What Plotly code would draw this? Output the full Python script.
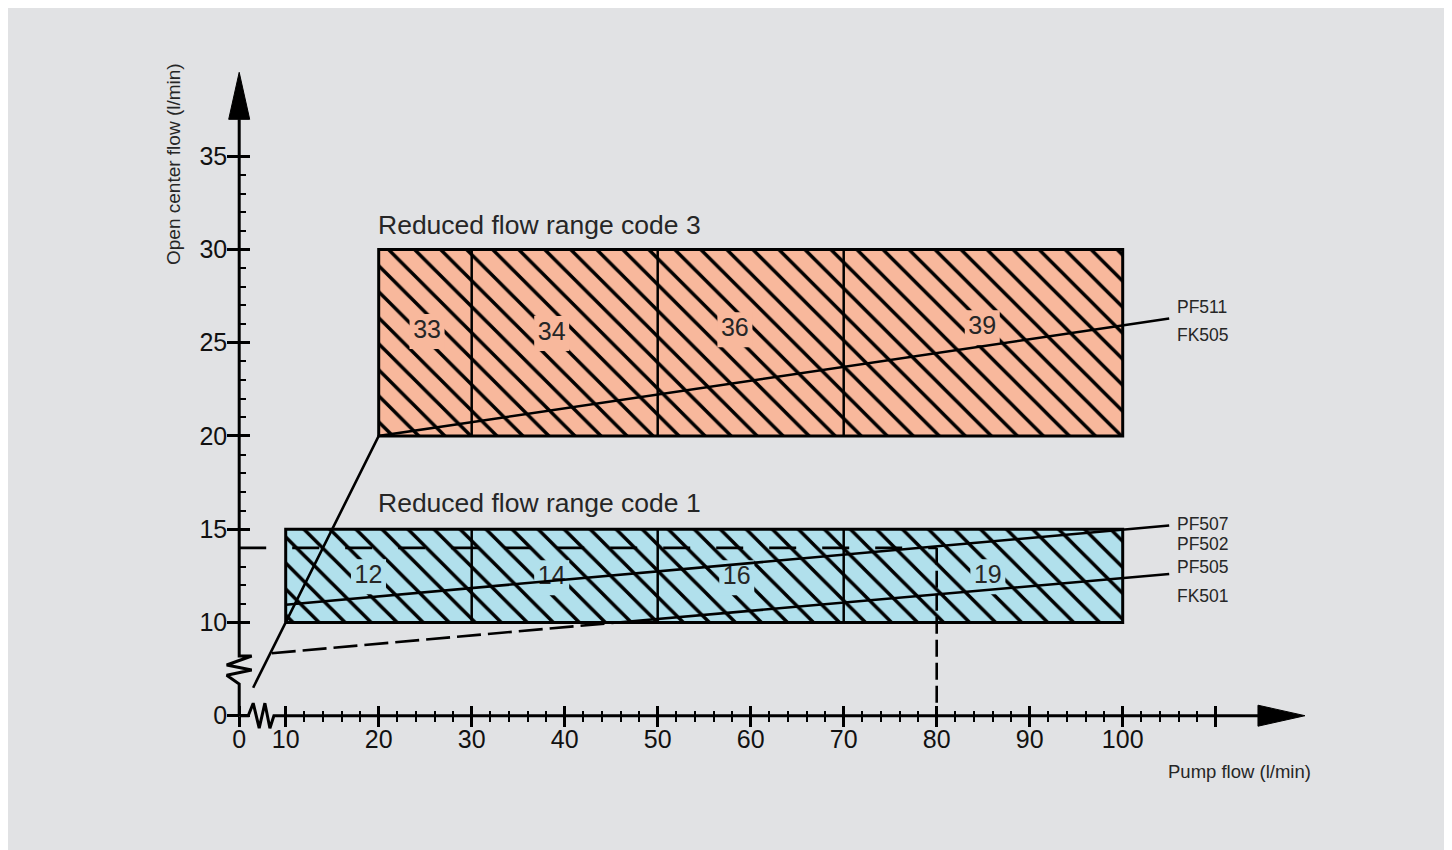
"""Reduced flow ranges: open center flow vs pump flow, with broken axes."""

import plotly.graph_objects as go

# ---------------------------------------------------------------------------
# Data (real units, l/min)
# ---------------------------------------------------------------------------
RANGE3_X = [20, 100]
RANGE3_Y = [20, 30]
RANGE1_X = [10, 100]
RANGE1_Y = [10, 15]
DIVIDERS_X = [30, 50, 70]

CODE3_LABELS = ["33", "34", "36", "39"]
CODE3_LABEL_X = [25.2, 38.6, 58.3, 84.9]
CODE3_LABEL_Y = [25.6, 25.5, 25.7, 25.8]
CODE1_LABELS = ["12", "14", "16", "19"]
CODE1_LABEL_X = [18.9, 38.6, 58.5, 85.5]
CODE1_LABEL_Y = [12.45, 12.4, 12.4, 12.45]

PF511_X = [3, 20, 105]
PF511_Y = [3, 20, 26.3]
PF507_X = [10, 105]
PF507_Y = [10.95, 15.2]
PF505_DASH_X = [7, 45.7]
PF505_DASH_Y = [6.7, 10]
PF505_X = [45.7, 105]
PF505_Y = [10, 12.6]
REF_PUMP = 80
REF_OPEN = 14

SERIES_LABELS = ["PF511", "FK505", "PF507", "PF502", "PF505", "FK501"]
SERIES_LABEL_Y = [26.9, 25.4, 15.3, 14.2, 13.0, 11.4]
SERIES_LABEL_X = 105.6

X_TICKS = [0, 10, 20, 30, 40, 50, 60, 70, 80, 90, 100, 110]
X_TICK_TEXT = ["0", "10", "20", "30", "40", "50", "60", "70", "80", "90", "100", ""]
X_MINOR = [v for v in range(12, 110, 2) if v % 10]
Y_TICKS = [0, 10, 15, 20, 25, 30, 35]
Y_TICK_TEXT = ["0", "10", "15", "20", "25", "30", "35"]
Y_MINOR = [v for v in range(11, 35) if v % 5]

X_AXIS_END = 119.6
Y_AXIS_END = 39.5

# ---------------------------------------------------------------------------
# Styling
# ---------------------------------------------------------------------------
BG = "#e1e2e4"
FILL3 = "#f8b89c"
FILL1 = "#b1e0ec"
INK = "#000000"
TEXT = "#262626"
FONT = "Liberation Sans, Arial, sans-serif"

PX_X = 9.3     # px per display unit
PX_Y = 18.65
X_RANGE = [-4, 116]
Y_RANGE = [-2, 35]


def tx(v):
    """Broken axis: 0..10 is drawn at half scale."""
    return v / 2 if v < 10 else v - 5


def txs(vals):
    return [None if v is None else tx(v) for v in vals]


def px_dx(p):
    return p / PX_X


def px_dy(p):
    return p / PX_Y


fig = go.Figure()

# reduced-flow boxes with hatching
for xs, ys, fill in [(RANGE3_X, RANGE3_Y, FILL3), (RANGE1_X, RANGE1_Y, FILL1)]:
    fig.add_trace(
        go.Scatter(
            x=txs([xs[0], xs[1], xs[1], xs[0], xs[0]]),
            y=txs([ys[0], ys[0], ys[1], ys[1], ys[0]]),
            mode="lines",
            fill="toself",
            fillcolor=fill,
            fillpattern=dict(shape="\\", fgcolor=INK, bgcolor=fill, fgopacity=1,
                             size=18.4, solidity=0.19),
            line=dict(color=INK, width=3),
            hoverinfo="skip",
            showlegend=False,
        )
    )

# number labels (square patch breaks the hatching)
for xs, ys, labels, fill in [
    (CODE3_LABEL_X, CODE3_LABEL_Y, CODE3_LABELS, FILL3),
    (CODE1_LABEL_X, CODE1_LABEL_Y, CODE1_LABELS, FILL1),
]:
    fig.add_trace(
        go.Scatter(
            x=txs(xs),
            y=txs(ys),
            mode="markers+text",
            text=labels,
            textposition="middle center",
            textfont=dict(size=25, color=TEXT, family=FONT),
            marker=dict(symbol="square", size=35, color=fill, line=dict(width=0)),
            hoverinfo="skip",
            showlegend=False,
        )
    )

# cell dividers
for ys in [RANGE3_Y, RANGE1_Y]:
    dx, dy = [], []
    for d in DIVIDERS_X:
        dx += [d, d, None]
        dy += [ys[0], ys[1], None]
    fig.add_trace(
        go.Scatter(x=txs(dx), y=txs(dy), mode="lines",
                   line=dict(color=INK, width=2.5),
                   hoverinfo="skip", showlegend=False)
    )

# characteristic lines
for xs, ys, dash in [
    (PF511_X, PF511_Y, "solid"),
    (PF507_X, PF507_Y, "solid"),
    (PF505_X, PF505_Y, "solid"),
    (PF505_DASH_X, PF505_DASH_Y, "24px,7px"),
]:
    fig.add_trace(
        go.Scatter(x=txs(xs), y=txs(ys), mode="lines",
                   line=dict(color=INK, width=2.6, dash=dash),
                   hoverinfo="skip", showlegend=False)
    )

# reference reading at 80 l/min
fig.add_trace(
    go.Scatter(x=txs([0, REF_PUMP]), y=txs([REF_OPEN, REF_OPEN]), mode="lines",
               line=dict(color=INK, width=2.6, dash="27px,26px"),
               hoverinfo="skip", showlegend=False)
)
fig.add_trace(
    go.Scatter(x=txs([REF_PUMP, REF_PUMP]), y=txs([REF_OPEN, 0]), mode="lines",
               line=dict(color=INK, width=2.6, dash="17px,6px"),
               hoverinfo="skip", showlegend=False)
)

# axis lines with break marks (drawn on the overlay axes)
xb = [0, 9, 14, 20, 25.7, 30.7, 34.7]          # px along x from origin
yb = [0, 12.5, -12.5, 12.5, -12.5, 0]          # px offsets for x-axis zigzag
x_line_x = [tx(X_AXIS_END) - px_dx(47)]
x_line_y = [0]
for p, q in zip(reversed(xb[1:]), [0] + list(reversed(yb[1:-1])) + [0]):
    x_line_x.append(px_dx(p))
    x_line_y.append(px_dy(q))
x_line_x.append(0)
x_line_y.append(0)

ybrk = [31.7, 40.5, 45.7, 50.7, 59.7]           # px up from origin
yoff = [0, -12.5, 12.5, -12.5, 12.5, 0]
y_line_x = [0]
y_line_y = [0]
for p, q in zip(ybrk + [59.7], yoff):
    y_line_x.append(px_dx(q))
    y_line_y.append(px_dy(p))
y_line_x.append(0)
y_line_y.append(tx(Y_AXIS_END) - px_dy(47))

fig.add_trace(
    go.Scatter(x=x_line_x + [None] + y_line_x, y=x_line_y + [None] + y_line_y,
               mode="lines", line=dict(color=INK, width=3),
               xaxis="x2", yaxis="y2", hoverinfo="skip", showlegend=False)
)

# arrow heads
xt, yt = tx(X_AXIS_END), tx(Y_AXIS_END)
fig.add_trace(
    go.Scatter(
        x=[xt - px_dx(47), xt, xt - px_dx(47), xt - px_dx(47), None,
           -px_dx(10.5), 0, px_dx(10.5), -px_dx(10.5)],
        y=[px_dy(10.5), 0, -px_dy(10.5), px_dy(10.5), None,
           yt - px_dy(47), yt, yt - px_dy(47), yt - px_dy(47)],
        mode="lines", fill="toself", fillcolor=INK,
        line=dict(color=INK, width=1),
        xaxis="x2", yaxis="y2", hoverinfo="skip", showlegend=False,
    )
)

# text annotations
annotations = [
    dict(x=tx(19.7), y=tx(31.3), text="Reduced flow range code 3",
         xanchor="left", yanchor="middle", font=dict(size=26.5, color=TEXT)),
    dict(x=tx(19.7), y=tx(16.4), text="Reduced flow range code 1",
         xanchor="left", yanchor="middle", font=dict(size=26.5, color=TEXT)),
]
for lab, yv in zip(SERIES_LABELS, SERIES_LABEL_Y):
    annotations.append(
        dict(x=tx(SERIES_LABEL_X), y=tx(yv), text=lab, xanchor="left",
             yanchor="middle", font=dict(size=17.5, color=TEXT))
    )
for a in annotations:
    a.update(xref="x", yref="y", showarrow=False, font_family=FONT)

annotations += [
    dict(x=0.9301, y=-0.0275, xref="paper", yref="paper", text="Pump flow (l/min)",
         showarrow=False, xanchor="center", yanchor="middle",
         font=dict(size=18.5, color=TEXT, family=FONT)),
    dict(x=-0.026, y=0.8536, xref="paper", yref="paper",
         text="Open center flow (l/min)", textangle=-90, showarrow=False,
         xanchor="center", yanchor="middle",
         font=dict(size=19, color=TEXT, family=FONT)),
]

x_pos = (0 - Y_RANGE[0]) / (Y_RANGE[1] - Y_RANGE[0])
y_pos = (0 - X_RANGE[0]) / (X_RANGE[1] - X_RANGE[0])

x_common = dict(range=X_RANGE, anchor="free", position=x_pos, showgrid=False,
                zeroline=False, showline=False, tickmode="array",
                tickvals=txs(X_TICKS), tickcolor=INK, tickwidth=2.5, fixedrange=True)
y_common = dict(range=Y_RANGE, anchor="free", position=y_pos, showgrid=False,
                zeroline=False, showline=False, tickmode="array",
                tickvals=txs(Y_TICKS), tickcolor=INK, tickwidth=2.5, fixedrange=True)

fig.update_layout(
    width=1436,
    height=842,
    margin=dict(l=194, r=126, t=55, b=97),
    paper_bgcolor=BG,
    plot_bgcolor="rgba(0,0,0,0)",
    font=dict(family=FONT, color=INK),
    showlegend=False,
    annotations=annotations,
    xaxis=dict(**x_common, ticktext=X_TICK_TEXT, ticks="outside", ticklen=10,
               ticklabelstandoff=-9,
               tickfont=dict(size=25, color="#111111"),
               minor=dict(tickmode="array", tickvals=txs(X_MINOR), ticks="outside",
                          ticklen=5, tickwidth=2, tickcolor=INK)),
    xaxis2=dict(**x_common, overlaying="x", ticks="inside", ticklen=10,
                showticklabels=False,
                minor=dict(tickmode="array", tickvals=txs(X_MINOR), ticks="inside",
                           ticklen=5, tickwidth=2, tickcolor=INK)),
    yaxis=dict(**y_common, ticktext=Y_TICK_TEXT, ticks="outside", ticklen=12,
               ticklabelstandoff=-5,
               tickfont=dict(size=25, color="#111111")),
    yaxis2=dict(**y_common, overlaying="y", ticks="inside", ticklen=10,
                showticklabels=False,
                minor=dict(tickmode="array", tickvals=txs(Y_MINOR), ticks="inside",
                           ticklen=6, tickwidth=2, tickcolor=INK)),
)

fig.write_html("out.html")
